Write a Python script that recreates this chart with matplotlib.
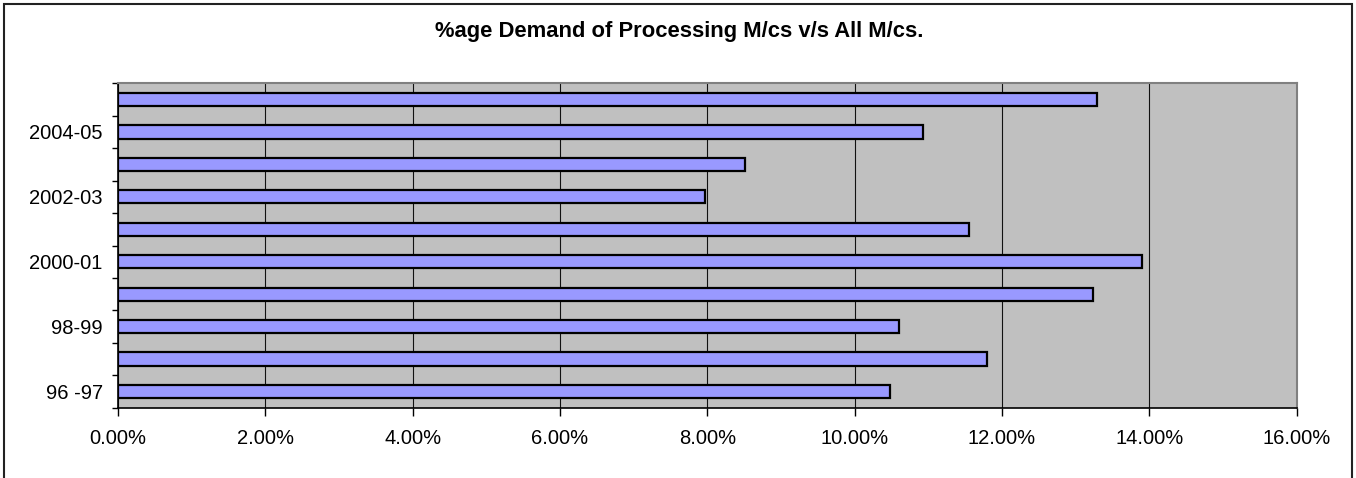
import matplotlib
matplotlib.use("Agg")
import matplotlib.pyplot as plt
import numpy as np
from matplotlib.patches import Rectangle
from matplotlib.ticker import FixedLocator, FuncFormatter

categories = ["96 -97", "97-98", "98-99", "99-2000", "2000-01",
              "2001-02", "2002-03", "2003-04", "2004-05", "2005-06"]
shown_labels = ["96 -97", "", "98-99", "", "2000-01", "", "2002-03", "", "2004-05", ""]
values = [10.48, 11.80, 10.60, 13.24, 13.90, 11.55, 7.97, 8.51, 10.93, 13.29]
x_ticks = [0, 2, 4, 6, 8, 10, 12, 14, 16]
title = "%age Demand of Processing M/cs v/s All M/cs."

plt.rcParams['font.family'] = ['Liberation Sans', 'DejaVu Sans']

fig = plt.figure(figsize=(13.56, 4.78), dpi=100)
ax = fig.add_axes([118/1356, 1-407.7/478, (1296.7-118)/1356, (407.7-83.3)/478])

y = np.arange(len(categories))
ax.set_facecolor('#C0C0C0')
ax.barh(y, values, height=0.41, color='#9999FF', edgecolor='black', linewidth=1.6, zorder=3)

ax.set_xlim(0, 16)
ax.set_ylim(-0.5, len(categories) - 0.5)
ax.xaxis.set_major_locator(FixedLocator(x_ticks))
ax.xaxis.set_major_formatter(FuncFormatter(lambda v, p: f"{v:.2f}%"))
ax.grid(axis='x', color='#111111', linewidth=0.8, zorder=1)

ax.set_yticks(y)
ax.set_yticklabels(shown_labels)
ax.yaxis.set_minor_locator(FixedLocator(np.arange(-0.5, len(categories), 1.0)))
ax.tick_params(axis='y', which='major', length=0, pad=11, labelsize=14.5)
ax.tick_params(axis='y', which='minor', length=4, width=1, color='black', direction='out')
ax.tick_params(axis='x', which='major', length=6, width=1, color='black', direction='out',
               pad=9.5, labelsize=14.5)

for s in ['top', 'right']:
    ax.spines[s].set_color('#808080')
    ax.spines[s].set_linewidth(1.5)
for s in ['left', 'bottom']:
    ax.spines[s].set_color('black')
    ax.spines[s].set_linewidth(1.2)

fig.text(679/1356, 1-32/478, title, ha='center', va='center', fontsize=15.8, fontweight='bold')

fig.patches.append(Rectangle((4/1356, -0.05), (1352-4)/1356, (1-4/478) + 0.05,
                             transform=fig.transFigure, fill=False,
                             edgecolor='#222222', linewidth=1.5))

fig.savefig("out.png", dpi=100)
